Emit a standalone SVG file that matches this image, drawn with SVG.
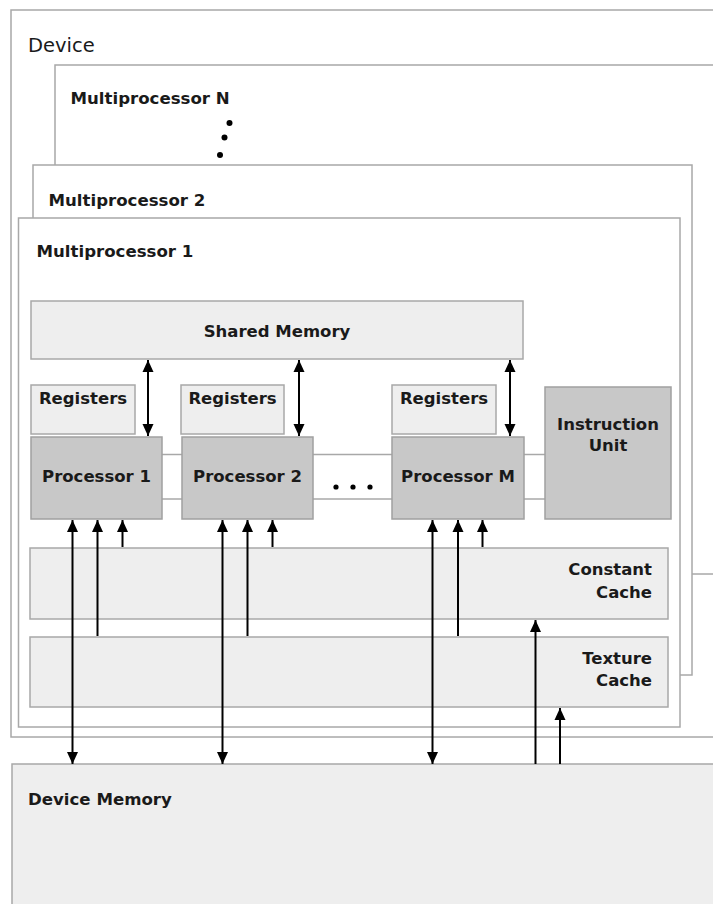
<svg xmlns="http://www.w3.org/2000/svg" width="713" height="904" viewBox="0 0 713 904">
  <style>
    .frame { fill: #ffffff; stroke: #a8a8a8; stroke-width: 1.5; }
    .mem { fill: #eeeeee; stroke: #a8a8a8; stroke-width: 1.5; }
    .core { fill: #c8c8c8; stroke: #a0a0a0; stroke-width: 1.5; }
    .link { stroke: #a8a8a8; stroke-width: 1.5; fill: none; }
    .wire { stroke: #000000; stroke-width: 2; fill: none; }
    .label { font-family: "DejaVu Sans", Verdana, sans-serif; font-weight: bold; font-size: 16.6px; fill: #1a1a1a; }
    .inner { font-size: 16.5px; }
    .plain { font-family: "DejaVu Sans", Verdana, sans-serif; font-size: 19.5px; fill: #1a1a1a; }
    .mid { text-anchor: middle; }
    .end { text-anchor: end; }
  </style>
  <defs>
    <marker id="head" viewBox="0 0 12 12" refX="12" refY="6" markerWidth="12" markerHeight="12" markerUnits="userSpaceOnUse" orient="auto-start-reverse">
      <path d="M0,0.5 L12,6 L0,11.5 z" fill="#000000"/>
    </marker>
  </defs>

  <!-- device enclosure -->
  <g id="device">
    <rect class="frame" x="11" y="10" width="720" height="727"/>
    <text class="plain" x="28" y="52">Device</text>
  </g>

  <!-- stacked multiprocessors -->
  <g id="mp-n">
    <rect class="frame" x="55" y="65" width="680" height="509"/>
    <text class="label" x="70.5" y="103.5">Multiprocessor N</text>
    <circle cx="229.5" cy="123" r="3" fill="#000"/>
    <circle cx="224.5" cy="137.5" r="3" fill="#000"/>
    <circle cx="220" cy="155" r="3" fill="#000"/>
  </g>
  <g id="mp-2">
    <rect class="frame" x="33" y="165" width="659" height="510"/>
    <text class="label" x="48.5" y="206">Multiprocessor 2</text>
  </g>
  <g id="mp-1">
    <rect class="frame" x="18.5" y="218" width="661.5" height="509"/>
    <text class="label" x="36.5" y="257">Multiprocessor 1</text>
  </g>

  <g id="shared-memory">
    <rect class="mem" x="31" y="301" width="492" height="58"/>
    <text class="label inner mid" x="277" y="337">Shared Memory</text>
  </g>

  <g id="registers-1">
    <rect class="mem" x="31" y="385" width="104" height="49"/>
    <text class="label inner mid" x="83" y="404">Registers</text>
  </g>
  <g id="registers-2">
    <rect class="mem" x="181" y="385" width="103" height="49"/>
    <text class="label inner mid" x="232.5" y="404">Registers</text>
  </g>
  <g id="registers-m">
    <rect class="mem" x="392" y="385" width="104" height="49"/>
    <text class="label inner mid" x="444" y="404">Registers</text>
  </g>

  <!-- processor bus lines -->
  <g id="bus">
    <line class="link" x1="162" y1="454.5" x2="182" y2="454.5"/>
    <line class="link" x1="162" y1="499" x2="182" y2="499"/>
    <line class="link" x1="313" y1="454.5" x2="392" y2="454.5"/>
    <line class="link" x1="313" y1="499" x2="392" y2="499"/>
    <line class="link" x1="524" y1="454.5" x2="545" y2="454.5"/>
    <line class="link" x1="524" y1="499" x2="545" y2="499"/>
    <rect x="326" y="470" width="54" height="24" fill="#ffffff"/>
    <circle cx="336" cy="487" r="2.6" fill="#000"/>
    <circle cx="353" cy="487" r="2.6" fill="#000"/>
    <circle cx="370" cy="487" r="2.6" fill="#000"/>
  </g>

  <g id="processor-1">
    <rect class="core" x="31" y="437" width="131" height="82"/>
    <text class="label inner mid" x="96.5" y="482">Processor 1</text>
  </g>
  <g id="processor-2">
    <rect class="core" x="182" y="437" width="131" height="82"/>
    <text class="label inner mid" x="247.5" y="482">Processor 2</text>
  </g>
  <g id="processor-m">
    <rect class="core" x="392" y="437" width="132" height="82"/>
    <text class="label inner mid" x="458" y="482">Processor M</text>
  </g>
  <g id="instruction-unit">
    <rect class="core" x="545" y="387" width="126" height="132"/>
    <text class="label inner mid" x="608" y="430">Instruction</text>
    <text class="label inner mid" x="608" y="451">Unit</text>
  </g>

  <g id="constant-cache">
    <rect class="mem" x="30" y="548" width="638" height="71"/>
    <text class="label inner end" x="652" y="575">Constant</text>
    <text class="label inner end" x="652" y="598">Cache</text>
  </g>
  <g id="texture-cache">
    <rect class="mem" x="30" y="637" width="638" height="70"/>
    <text class="label inner end" x="652" y="664">Texture</text>
    <text class="label inner end" x="652" y="686">Cache</text>
  </g>

  <g id="device-memory">
    <rect class="mem" x="12" y="764" width="720" height="160"/>
    <text class="label" x="28" y="805">Device Memory</text>
  </g>

  <!-- data paths -->
  <g id="connectors">
    <!-- shared memory <-> processors -->
    <line class="wire" x1="148" y1="360" x2="148" y2="436" marker-start="url(#head)" marker-end="url(#head)"/>
    <line class="wire" x1="299" y1="360" x2="299" y2="436" marker-start="url(#head)" marker-end="url(#head)"/>
    <line class="wire" x1="510" y1="360" x2="510" y2="436" marker-start="url(#head)" marker-end="url(#head)"/>

    <!-- processor 1 -->
    <line class="wire" x1="72.5" y1="520" x2="72.5" y2="764" marker-start="url(#head)" marker-end="url(#head)"/>
    <line class="wire" x1="97.5" y1="636" x2="97.5" y2="520" marker-end="url(#head)"/>
    <line class="wire" x1="122.5" y1="547" x2="122.5" y2="520" marker-end="url(#head)"/>

    <!-- processor 2 -->
    <line class="wire" x1="222.5" y1="520" x2="222.5" y2="764" marker-start="url(#head)" marker-end="url(#head)"/>
    <line class="wire" x1="247.5" y1="636" x2="247.5" y2="520" marker-end="url(#head)"/>
    <line class="wire" x1="272.5" y1="547" x2="272.5" y2="520" marker-end="url(#head)"/>

    <!-- processor M -->
    <line class="wire" x1="432.5" y1="520" x2="432.5" y2="764" marker-start="url(#head)" marker-end="url(#head)"/>
    <line class="wire" x1="458" y1="636" x2="458" y2="520" marker-end="url(#head)"/>
    <line class="wire" x1="482.5" y1="547" x2="482.5" y2="520" marker-end="url(#head)"/>

    <!-- device memory -> caches -->
    <line class="wire" x1="535.5" y1="764" x2="535.5" y2="620" marker-end="url(#head)"/>
    <line class="wire" x1="560" y1="764" x2="560" y2="708" marker-end="url(#head)"/>
  </g>
</svg>
